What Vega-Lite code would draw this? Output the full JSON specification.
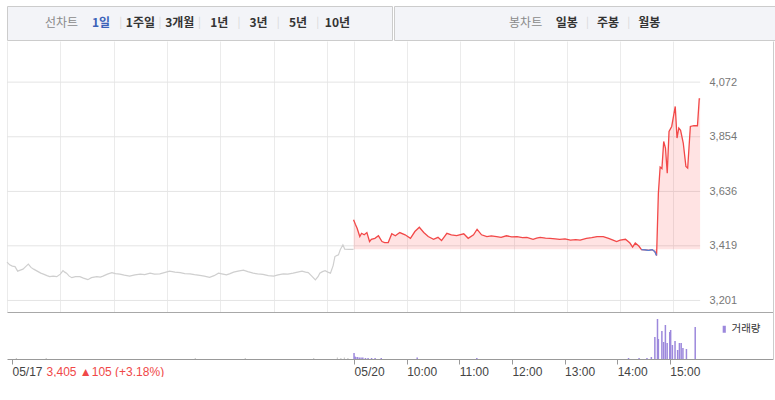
{
  "$schema": "https://vega.github.io/schema/vega-lite/v6.json",
  "background": "white",
  "padding": {"left": 4, "top": 5, "right": 0, "bottom": 0},
  "spacing": 0,
  "resolve": {"scale": {"color": "independent"}, "legend": {"color": "independent"}},
  "config": {
    "font": "Liberation Sans, Noto Sans CJK KR, sans-serif",
    "view": {"stroke": null}
  },
  "datasets": {
    "price": [
      {"day": "05/17", "t": 0, "price": 3354}, {"day": "05/17", "t": 3, "price": 3343}, {"day": "05/17", "t": 6, "price": 3338},
      {"day": "05/17", "t": 9, "price": 3336}, {"day": "05/17", "t": 12, "price": 3318}, {"day": "05/17", "t": 15, "price": 3322},
      {"day": "05/17", "t": 18, "price": 3326}, {"day": "05/17", "t": 21, "price": 3336}, {"day": "05/17", "t": 24, "price": 3346},
      {"day": "05/17", "t": 27, "price": 3333}, {"day": "05/17", "t": 30, "price": 3326}, {"day": "05/17", "t": 33, "price": 3320},
      {"day": "05/17", "t": 35, "price": 3316}, {"day": "05/17", "t": 38, "price": 3310}, {"day": "05/17", "t": 41, "price": 3306},
      {"day": "05/17", "t": 45, "price": 3300}, {"day": "05/17", "t": 48, "price": 3296}, {"day": "05/17", "t": 52, "price": 3298},
      {"day": "05/17", "t": 56, "price": 3296}, {"day": "05/17", "t": 60, "price": 3306}, {"day": "05/17", "t": 63, "price": 3320},
      {"day": "05/17", "t": 65, "price": 3314}, {"day": "05/17", "t": 67, "price": 3310}, {"day": "05/17", "t": 70, "price": 3298},
      {"day": "05/17", "t": 73, "price": 3292}, {"day": "05/17", "t": 77, "price": 3296}, {"day": "05/17", "t": 82, "price": 3296},
      {"day": "05/17", "t": 86, "price": 3290}, {"day": "05/17", "t": 91, "price": 3284}, {"day": "05/17", "t": 95, "price": 3292},
      {"day": "05/17", "t": 101, "price": 3296}, {"day": "05/17", "t": 105, "price": 3294}, {"day": "05/17", "t": 108, "price": 3298},
      {"day": "05/17", "t": 113, "price": 3306}, {"day": "05/17", "t": 118, "price": 3312}, {"day": "05/17", "t": 122, "price": 3308},
      {"day": "05/17", "t": 127, "price": 3306}, {"day": "05/17", "t": 132, "price": 3302}, {"day": "05/17", "t": 138, "price": 3298},
      {"day": "05/17", "t": 144, "price": 3303}, {"day": "05/17", "t": 150, "price": 3306}, {"day": "05/17", "t": 155, "price": 3304},
      {"day": "05/17", "t": 161, "price": 3310}, {"day": "05/17", "t": 166, "price": 3306}, {"day": "05/17", "t": 172, "price": 3307},
      {"day": "05/17", "t": 177, "price": 3312}, {"day": "05/17", "t": 183, "price": 3318}, {"day": "05/17", "t": 189, "price": 3314},
      {"day": "05/17", "t": 195, "price": 3312}, {"day": "05/17", "t": 200, "price": 3308}, {"day": "05/17", "t": 206, "price": 3307},
      {"day": "05/17", "t": 211, "price": 3304}, {"day": "05/17", "t": 217, "price": 3301}, {"day": "05/17", "t": 222, "price": 3298},
      {"day": "05/17", "t": 228, "price": 3293}, {"day": "05/17", "t": 233, "price": 3300}, {"day": "05/17", "t": 238, "price": 3310},
      {"day": "05/17", "t": 243, "price": 3306}, {"day": "05/17", "t": 247, "price": 3303}, {"day": "05/17", "t": 251, "price": 3308},
      {"day": "05/17", "t": 255, "price": 3314}, {"day": "05/17", "t": 260, "price": 3318}, {"day": "05/17", "t": 266, "price": 3322},
      {"day": "05/17", "t": 271, "price": 3316}, {"day": "05/17", "t": 277, "price": 3310}, {"day": "05/17", "t": 282, "price": 3307},
      {"day": "05/17", "t": 288, "price": 3305}, {"day": "05/17", "t": 294, "price": 3300}, {"day": "05/17", "t": 300, "price": 3298},
      {"day": "05/17", "t": 305, "price": 3303}, {"day": "05/17", "t": 311, "price": 3307}, {"day": "05/17", "t": 316, "price": 3306},
      {"day": "05/17", "t": 322, "price": 3310}, {"day": "05/17", "t": 327, "price": 3314}, {"day": "05/17", "t": 332, "price": 3318},
      {"day": "05/17", "t": 336, "price": 3314}, {"day": "05/17", "t": 339, "price": 3312}, {"day": "05/17", "t": 343, "price": 3298},
      {"day": "05/17", "t": 347, "price": 3283}, {"day": "05/17", "t": 350, "price": 3296}, {"day": "05/17", "t": 352, "price": 3310},
      {"day": "05/17", "t": 355, "price": 3316}, {"day": "05/17", "t": 358, "price": 3320}, {"day": "05/17", "t": 361, "price": 3314},
      {"day": "05/17", "t": 364, "price": 3310}, {"day": "05/17", "t": 367, "price": 3340}, {"day": "05/17", "t": 369, "price": 3376},
      {"day": "05/17", "t": 371, "price": 3380}, {"day": "05/17", "t": 373, "price": 3383}, {"day": "05/17", "t": 375, "price": 3403},
      {"day": "05/17", "t": 378, "price": 3423}, {"day": "05/17", "t": 380, "price": 3406}, {"day": "05/17", "t": 385, "price": 3405},
      {"day": "05/17", "t": 390, "price": 3405},
      {"day": "05/20", "t": 390, "price": 3523}, {"day": "05/20", "t": 392, "price": 3505}, {"day": "05/20", "t": 394, "price": 3489},
      {"day": "05/20", "t": 397, "price": 3456}, {"day": "05/20", "t": 399, "price": 3469}, {"day": "05/20", "t": 402, "price": 3463},
      {"day": "05/20", "t": 405, "price": 3472}, {"day": "05/20", "t": 408, "price": 3436}, {"day": "05/20", "t": 410, "price": 3445},
      {"day": "05/20", "t": 414, "price": 3449}, {"day": "05/20", "t": 418, "price": 3459}, {"day": "05/20", "t": 422, "price": 3436},
      {"day": "05/20", "t": 425, "price": 3432}, {"day": "05/20", "t": 429, "price": 3432}, {"day": "05/20", "t": 433, "price": 3467},
      {"day": "05/20", "t": 437, "price": 3459}, {"day": "05/20", "t": 442, "price": 3472}, {"day": "05/20", "t": 448, "price": 3463},
      {"day": "05/20", "t": 454, "price": 3449}, {"day": "05/20", "t": 459, "price": 3476}, {"day": "05/20", "t": 464, "price": 3493},
      {"day": "05/20", "t": 469, "price": 3472}, {"day": "05/20", "t": 474, "price": 3456}, {"day": "05/20", "t": 480, "price": 3445},
      {"day": "05/20", "t": 485, "price": 3453}, {"day": "05/20", "t": 489, "price": 3440}, {"day": "05/20", "t": 495, "price": 3469},
      {"day": "05/20", "t": 500, "price": 3463}, {"day": "05/20", "t": 506, "price": 3460}, {"day": "05/20", "t": 514, "price": 3467},
      {"day": "05/20", "t": 519, "price": 3449}, {"day": "05/20", "t": 525, "price": 3463}, {"day": "05/20", "t": 529, "price": 3485},
      {"day": "05/20", "t": 534, "price": 3463}, {"day": "05/20", "t": 540, "price": 3456}, {"day": "05/20", "t": 545, "price": 3459},
      {"day": "05/20", "t": 551, "price": 3456}, {"day": "05/20", "t": 556, "price": 3453}, {"day": "05/20", "t": 562, "price": 3459},
      {"day": "05/20", "t": 568, "price": 3455}, {"day": "05/20", "t": 574, "price": 3456}, {"day": "05/20", "t": 580, "price": 3452},
      {"day": "05/20", "t": 585, "price": 3453}, {"day": "05/20", "t": 592, "price": 3445}, {"day": "05/20", "t": 596, "price": 3450},
      {"day": "05/20", "t": 600, "price": 3453}, {"day": "05/20", "t": 606, "price": 3450}, {"day": "05/20", "t": 611, "price": 3449},
      {"day": "05/20", "t": 617, "price": 3447}, {"day": "05/20", "t": 622, "price": 3445}, {"day": "05/20", "t": 628, "price": 3447},
      {"day": "05/20", "t": 634, "price": 3442}, {"day": "05/20", "t": 640, "price": 3444}, {"day": "05/20", "t": 645, "price": 3442},
      {"day": "05/20", "t": 652, "price": 3449}, {"day": "05/20", "t": 658, "price": 3452}, {"day": "05/20", "t": 664, "price": 3456},
      {"day": "05/20", "t": 671, "price": 3456}, {"day": "05/20", "t": 677, "price": 3449}, {"day": "05/20", "t": 682, "price": 3442},
      {"day": "05/20", "t": 686, "price": 3436}, {"day": "05/20", "t": 690, "price": 3442}, {"day": "05/20", "t": 696, "price": 3445},
      {"day": "05/20", "t": 701, "price": 3430}, {"day": "05/20", "t": 704, "price": 3414}, {"day": "05/20", "t": 707, "price": 3430},
      {"day": "05/20", "t": 711, "price": 3418}, {"day": "05/20", "t": 714, "price": 3404}, {"day": "05/20", "t": 718, "price": 3403},
      {"day": "05/20", "t": 722, "price": 3401}, {"day": "05/20", "t": 726, "price": 3404}, {"day": "05/20", "t": 729, "price": 3396},
      {"day": "05/20", "t": 731, "price": 3380}, {"day": "05/20", "t": 733, "price": 3629}, {"day": "05/20", "t": 735, "price": 3733},
      {"day": "05/20", "t": 737, "price": 3727}, {"day": "05/20", "t": 739, "price": 3835}, {"day": "05/20", "t": 741, "price": 3809},
      {"day": "05/20", "t": 743, "price": 3709}, {"day": "05/20", "t": 745, "price": 3875}, {"day": "05/20", "t": 748, "price": 3895},
      {"day": "05/20", "t": 750, "price": 3935}, {"day": "05/20", "t": 752, "price": 3975}, {"day": "05/20", "t": 754, "price": 3849},
      {"day": "05/20", "t": 756, "price": 3889}, {"day": "05/20", "t": 758, "price": 3880}, {"day": "05/20", "t": 761, "price": 3829},
      {"day": "05/20", "t": 764, "price": 3736}, {"day": "05/20", "t": 766, "price": 3729}, {"day": "05/20", "t": 769, "price": 3895},
      {"day": "05/20", "t": 773, "price": 3898}, {"day": "05/20", "t": 777, "price": 3898}, {"day": "05/20", "t": 779, "price": 4005},
      {"day": "05/20", "t": 780, "price": 4005}
    ],
    "volume": [
      {"day": "05/17", "t": 5, "vol": 1}, {"day": "05/17", "t": 39, "vol": 1}, {"day": "05/17", "t": 209, "vol": 1},
      {"day": "05/17", "t": 266, "vol": 1}, {"day": "05/17", "t": 344, "vol": 1}, {"day": "05/17", "t": 371, "vol": 1.5},
      {"day": "05/17", "t": 375, "vol": 1}, {"day": "05/17", "t": 379, "vol": 1.5}, {"day": "05/17", "t": 383, "vol": 1},
      {"day": "05/20", "t": 390, "vol": 6}, {"day": "05/20", "t": 391, "vol": 2.5}, {"day": "05/20", "t": 392, "vol": 2},
      {"day": "05/20", "t": 394, "vol": 2}, {"day": "05/20", "t": 396, "vol": 1.5}, {"day": "05/20", "t": 398, "vol": 1.5},
      {"day": "05/20", "t": 400, "vol": 1.5}, {"day": "05/20", "t": 403, "vol": 1}, {"day": "05/20", "t": 406, "vol": 1},
      {"day": "05/20", "t": 410, "vol": 1}, {"day": "05/20", "t": 414, "vol": 1}, {"day": "05/20", "t": 421, "vol": 1},
      {"day": "05/20", "t": 462, "vol": 1.5}, {"day": "05/20", "t": 530, "vol": 1}, {"day": "05/20", "t": 703, "vol": 1},
      {"day": "05/20", "t": 715, "vol": 1}, {"day": "05/20", "t": 724, "vol": 1}, {"day": "05/20", "t": 729, "vol": 2},
      {"day": "05/20", "t": 733, "vol": 22}, {"day": "05/20", "t": 736, "vol": 40}, {"day": "05/20", "t": 737, "vol": 20},
      {"day": "05/20", "t": 741, "vol": 28}, {"day": "05/20", "t": 743, "vol": 17}, {"day": "05/20", "t": 745, "vol": 34},
      {"day": "05/20", "t": 747, "vol": 16}, {"day": "05/20", "t": 750, "vol": 27}, {"day": "05/20", "t": 751, "vol": 29},
      {"day": "05/20", "t": 753, "vol": 14}, {"day": "05/20", "t": 756, "vol": 18}, {"day": "05/20", "t": 759, "vol": 9},
      {"day": "05/20", "t": 761, "vol": 16}, {"day": "05/20", "t": 763, "vol": 16}, {"day": "05/20", "t": 765, "vol": 11},
      {"day": "05/20", "t": 769, "vol": 10}, {"day": "05/20", "t": 779, "vol": 32}
    ],
    "hgrid": [
      {"level": 3201, "t": 0}, {"level": 3201, "t": 780},
      {"level": 3419, "t": 0}, {"level": 3419, "t": 780},
      {"level": 3636, "t": 0}, {"level": 3636, "t": 780},
      {"level": 3854, "t": 0}, {"level": 3854, "t": 780},
      {"level": 4072, "t": 0}, {"level": 4072, "t": 780}
    ]
  },
  "vconcat": [
    {
      "hconcat": [
        {
          "width": 385,
          "height": 34,
          "view": {"fill": "#f3f4f8", "stroke": "#cccccc"},
          "data": {"values": [
            {"label": "선차트"}, {"label": "1일"}, {"label": "1주일"}, {"label": "3개월"},
            {"label": "1년"}, {"label": "3년"}, {"label": "5년"}, {"label": "10년"}
          ]},
          "encoding": {
            "x": {"field": "label", "type": "nominal",
                  "scale": {"type": "band", "domain": ["선차트", "1일", "1주일", "3개월", "1년", "3년", "5년", "10년"], "paddingInner": 0, "paddingOuter": 0.886},
                  "axis": null}
          },
          "layer": [
            {"transform": [{"filter": "datum.label == '선차트'"}],
             "mark": {"type": "text", "font": "Noto Sans CJK KR", "fontSize": 12, "color": "#8a8a8a"},
             "encoding": {"text": {"field": "label"}}},
            {"transform": [{"filter": "datum.label != '선차트'"}],
             "mark": {"type": "text", "font": "Noto Sans CJK KR", "fontSize": 12, "fontWeight": "bold"},
             "encoding": {"text": {"field": "label"},
                          "color": {"condition": {"test": "datum.label == '1일'", "value": "#3b62b8"}, "value": "#333333"}}},
            {"transform": [{"filter": "datum.label != '선차트' && datum.label != '1일'"}],
             "mark": {"type": "text", "text": "|", "font": "Noto Sans CJK KR", "fontSize": 11, "color": "#d8d8d8"},
             "encoding": {"x": {"field": "label", "type": "nominal", "bandPosition": 0}}}
          ]
        },
        {
          "width": 381,
          "height": 34,
          "view": {"fill": "#f3f4f8", "stroke": "#cccccc"},
          "data": {"values": [
            {"label": "봉차트"}, {"label": "일봉"}, {"label": "주봉"}, {"label": "월봉"}
          ]},
          "encoding": {
            "x": {"field": "label", "type": "nominal",
                  "scale": {"type": "band", "domain": ["봉차트", "일봉", "주봉", "월봉"], "paddingInner": 0, "paddingOuter": 0, "range": [111, 276]},
                  "axis": null}
          },
          "layer": [
            {"transform": [{"filter": "datum.label == '봉차트'"}],
             "mark": {"type": "text", "font": "Noto Sans CJK KR", "fontSize": 12, "color": "#8a8a8a"},
             "encoding": {"text": {"field": "label"}}},
            {"transform": [{"filter": "datum.label != '봉차트'"}],
             "mark": {"type": "text", "font": "Noto Sans CJK KR", "fontSize": 12, "fontWeight": "bold", "color": "#333333"},
             "encoding": {"text": {"field": "label"}}},
            {"transform": [{"filter": "datum.label == '주봉' || datum.label == '월봉'"}],
             "mark": {"type": "text", "text": "|", "font": "Noto Sans CJK KR", "fontSize": 11, "color": "#d8d8d8"},
             "encoding": {"x": {"field": "label", "type": "nominal", "bandPosition": 0}}}
          ]
        }
      ],
      "spacing": 0
    },
    {
      "width": 766,
      "height": 271,
      "encoding": {
        "x": {"field": "t", "type": "quantitative",
              "scale": {"domain": [0, 862], "nice": false, "zero": false},
              "axis": {"values": [0, 60, 120, 180, 240, 300, 360, 390, 450, 510, 570, 630, 690, 750],
                       "grid": true, "gridColor": "#ebebeb", "labels": false, "ticks": false,
                       "domain": true, "domainColor": "#a8a8a8", "title": null}},
        "y": {"field": "price", "type": "quantitative",
              "scale": {"domain": [3155, 4236], "nice": false, "zero": false},
              "axis": {"orient": "right", "values": [3201, 3419, 3636, 3854, 4072],
                       "labelExpr": "format(datum.value, ',')",
                       "grid": false, "ticks": false, "domain": true, "domainColor": "#cccccc",
                       "labelPadding": -64, "labelAlign": "left", "labelBaseline": "middle",
                       "labelColor": "#777777", "labelFontSize": 11, "title": null}}
      },
      "layer": [
        {"data": {"name": "hgrid"},
         "mark": {"type": "line", "color": "#e4e4e4", "strokeWidth": 1},
         "encoding": {"y": {"field": "level", "type": "quantitative"}, "detail": {"field": "level", "type": "nominal"}}},
        {"data": {"name": "price"},
         "transform": [{"filter": "datum.day == '05/20'"}],
         "mark": {"type": "area", "color": "#ff3c3c", "opacity": 0.14},
         "encoding": {"y2": {"datum": 3405}}},
        {"data": {"name": "price"},
         "transform": [{"filter": "datum.day == '05/17'"}],
         "mark": {"type": "line", "color": "#cfcfcf", "strokeWidth": 1.2}},
        {"data": {"name": "price"},
         "transform": [{"filter": "datum.day == '05/20'"}],
         "mark": {"type": "line", "color": "#f24848", "strokeWidth": 1.3}},
        {"data": {"name": "price"},
         "transform": [{"filter": "datum.day == '05/20' && datum.t >= 714 && datum.t <= 731"}],
         "mark": {"type": "line", "color": "#4b84de", "strokeWidth": 1.3}},
        {"data": {"values": [{"base": 3405}]},
         "mark": {"type": "rule", "color": "#9a9a9a", "strokeDash": [1, 2], "strokeWidth": 1},
         "encoding": {"y": {"field": "base", "type": "quantitative"}, "x": {"datum": 390}, "x2": {"datum": 780}}}
      ]
    },
    {
      "width": 766,
      "height": 47,
      "data": {"name": "volume"},
      "encoding": {
        "x": {"field": "t", "type": "quantitative",
              "scale": {"domain": [0, 862], "nice": false, "zero": false},
              "axis": {"values": [0, 390, 450, 510, 570, 630, 690, 750],
                       "labelExpr": "datum.value == 0 ? '05/17' : datum.value == 390 ? '05/20' : (floor((datum.value - 390) / 60) + 9) + ':00'",
                       "labelAlign": "left", "labelFlush": false, "labelOverlap": false, "labelPadding": 2,
                       "labelColor": "#444444", "labelFontSize": 12,
                       "tickSize": 5, "tickColor": "#999999", "domainColor": "#999999", "grid": false,
                       "title": "3,405 ▲105 (+3.18%)", "titleColor": "#f04848", "titleFontSize": 12,
                       "titleFontWeight": "normal", "titleX": 39, "titleY": 7, "titleAlign": "left",
                       "titleBaseline": "top"}},
        "y": {"field": "vol", "type": "quantitative", "stack": null,
              "scale": {"domain": [0, 47], "nice": false},
              "axis": {"orient": "right", "labels": false, "ticks": false, "grid": false,
                       "domain": true, "domainColor": "#cccccc", "title": null}}
      },
      "layer": [
        {"transform": [{"filter": "datum.day == '05/17'"}],
         "mark": {"type": "bar", "size": 1.2, "color": "#cccccc"}},
        {"transform": [{"filter": "datum.day == '05/20'"}],
         "mark": {"type": "bar", "size": 1.5},
         "encoding": {"color": {"datum": "거래량", "type": "nominal",
                                "scale": {"range": ["#9c88dc"]},
                                "legend": {"title": null, "orient": "top-right", "offset": 12,
                                           "symbolType": "M-0.45,-1L0.45,-1L0.45,1L-0.45,1Z",
                                           "symbolSize": 49, "symbolStrokeWidth": 0,
                                           "labelFont": "Noto Sans CJK KR", "labelFontSize": 10.5,
                                           "labelColor": "#333333", "labelOffset": 2, "padding": 0}}}}
      ]
    }
  ]
}
